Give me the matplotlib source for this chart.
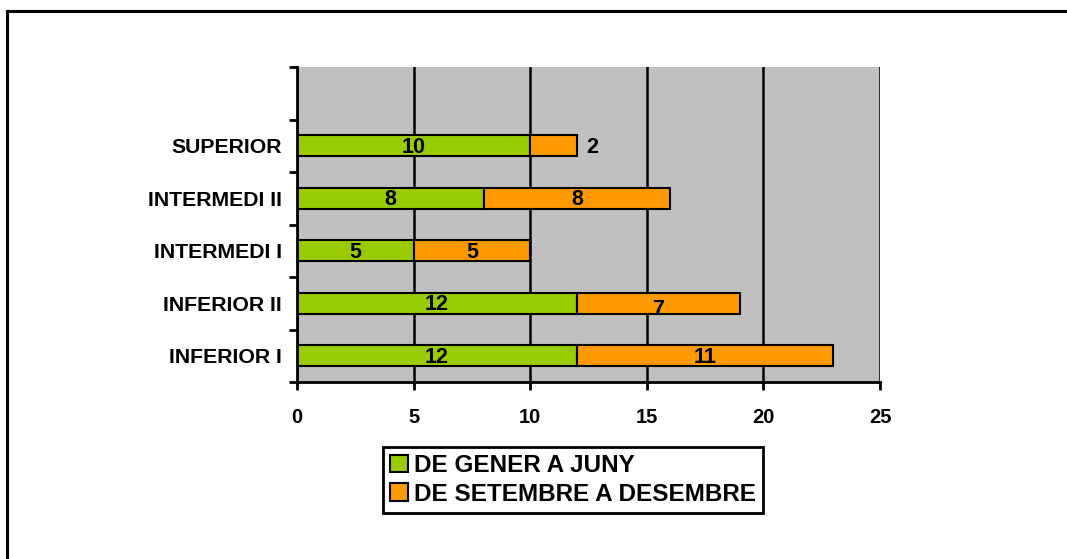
import matplotlib
matplotlib.use("Agg")
import matplotlib.pyplot as plt
from matplotlib.lines import Line2D
import numpy as np

plt.rcParams["font.family"] = ["Liberation Sans", "DejaVu Sans"]
plt.rcParams["font.weight"] = "bold"

categories = ["INFERIOR I", "INFERIOR II", "INTERMEDI I", "INTERMEDI II", "SUPERIOR"]
gener_juny = [12, 12, 5, 8, 10]
setembre_desembre = [11, 7, 5, 8, 2]
series_names = ["DE GENER A JUNY", "DE SETEMBRE A DESEMBRE"]
x_ticks = [0, 5, 10, 15, 20, 25]

GREEN = "#99CC00"
ORANGE = "#FF9900"
TICK_FONT = 14.5
CAT_FONT = 15.3
BAR_FONT = 15.5
LEG_FONT = 17.5

fig = plt.figure(figsize=(10.67, 5.59), dpi=100)
ax = fig.add_axes([297 / 1067, 1 - 382 / 559, (880 - 297) / 1067, (382 - 67) / 559])
ax.set_facecolor("#C0C0C0")

# outer chart frame (top and left edges visible, the rest is cropped)
fig.add_artist(Line2D([7 / 1067, 7 / 1067], [0, 1 - 11 / 559], transform=fig.transFigure,
                      color="black", lw=2.2))
fig.add_artist(Line2D([7 / 1067, 1], [1 - 11 / 559, 1 - 11 / 559], transform=fig.transFigure,
                      color="black", lw=2.2))

y = np.arange(len(categories))
h = 0.4
b1 = ax.barh(y, gener_juny, height=h, color=GREEN, edgecolor="black", lw=1.5,
             label=series_names[0], zorder=3)
b2 = ax.barh(y, setembre_desembre, left=gener_juny, height=h, color=ORANGE,
             edgecolor="black", lw=1.5, label=series_names[1], zorder=3)

for i in range(len(categories)):
    ax.text(gener_juny[i] / 2, y[i] - 0.03, str(gener_juny[i]), ha="center", va="center",
            fontsize=BAR_FONT, fontweight="bold", zorder=4)
    end = gener_juny[i] + setembre_desembre[i]
    if setembre_desembre[i] <= 2:
        # too narrow, label sits to the right of the bar
        ax.text(end + 0.4, y[i] - 0.03, str(setembre_desembre[i]), ha="left", va="center",
                fontsize=BAR_FONT, fontweight="bold", zorder=4)
    else:
        dy = -0.12 if setembre_desembre[i] == 7 else -0.03
        ax.text(gener_juny[i] + setembre_desembre[i] / 2, y[i] + dy, str(setembre_desembre[i]),
                ha="center", va="center", fontsize=BAR_FONT, fontweight="bold", zorder=4)

ax.set_xlim(0, 25)
ax.set_ylim(-0.5, len(categories) + 0.5)
ax.set_xticks(x_ticks)
ax.set_xticklabels([str(t) for t in x_ticks], fontsize=TICK_FONT, fontweight="bold")
ax.set_yticks(y)
ax.set_yticklabels(categories, fontsize=CAT_FONT, fontweight="bold")
ax.set_yticks(np.arange(-0.5, len(categories) + 1, 1), minor=True)

ax.tick_params(axis="y", which="major", length=0, pad=11)
ax.tick_params(axis="y", which="minor", length=6, width=2, direction="out")
ax.tick_params(axis="x", which="major", length=6, width=2, direction="out", pad=13)

ax.grid(True, axis="x", color="black", lw=1.8, zorder=1)
for s in ["top", "right"]:
    ax.spines[s].set_visible(False)
for s in ["left", "bottom"]:
    ax.spines[s].set_linewidth(2)
    ax.spines[s].set_zorder(5)

leg = fig.legend(handles=[b1, b2], loc="upper center",
                 bbox_to_anchor=(573 / 1067, 1 - 447 / 559),
                 prop={"weight": "bold", "size": LEG_FONT},
                 handlelength=0.72, handleheight=0.72, handletextpad=0.25,
                 borderpad=0.3, labelspacing=0.22, borderaxespad=0,
                 fancybox=False, framealpha=1, edgecolor="black")
leg.get_frame().set_linewidth(2)

fig.savefig("out.png", dpi=100)
